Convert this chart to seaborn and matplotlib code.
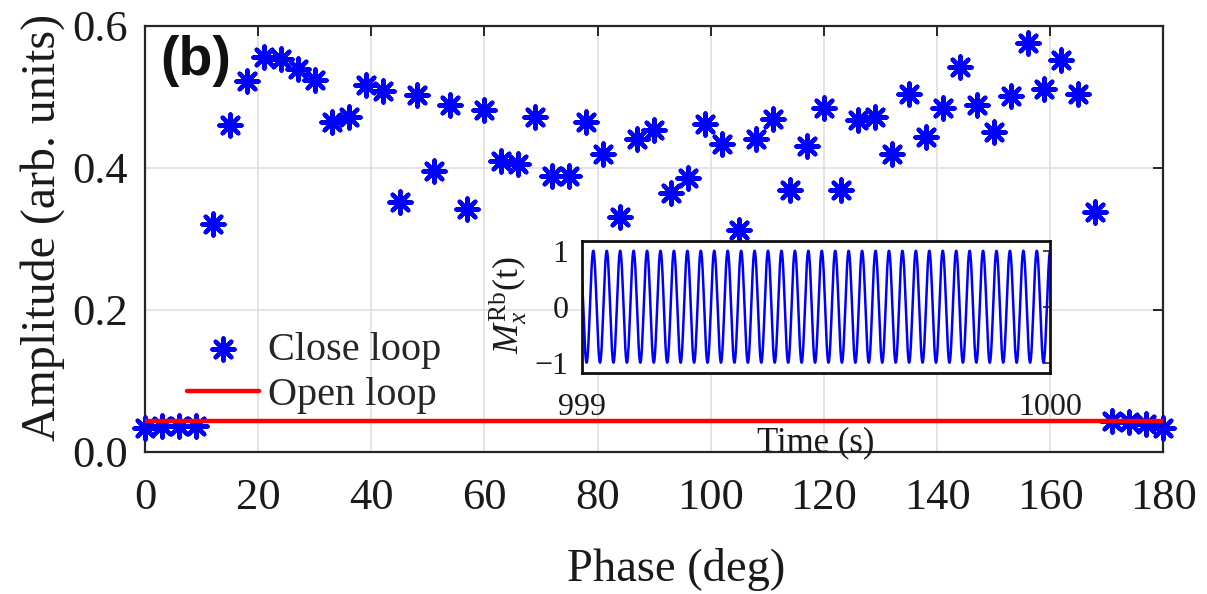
import numpy as np
import pandas as pd
import matplotlib
matplotlib.use("Agg")
import matplotlib.pyplot as plt
from matplotlib.ticker import FormatStrFormatter
import seaborn as sns

# ---------------- data ----------------
phase_deg = [0, 3, 6, 9, 12, 15, 18, 21, 24, 27, 30, 33, 36, 39, 42, 45, 48, 51, 54, 57,
             60, 63, 66, 69, 72, 75, 78, 81, 84, 87, 90, 93, 96, 99, 102, 105, 108, 111,
             114, 117, 120, 123, 126, 129, 132, 135, 138, 141, 144, 147, 150, 153, 156,
             159, 162, 165, 168, 171, 174, 177, 180]
close_loop = [0.034, 0.037, 0.037, 0.037, 0.321, 0.460, 0.522, 0.556, 0.553, 0.539,
              0.524, 0.464, 0.471, 0.516, 0.508, 0.352, 0.502, 0.396, 0.488, 0.342,
              0.481, 0.409, 0.406, 0.471, 0.389, 0.389, 0.464, 0.419, 0.331, 0.440,
              0.453, 0.365, 0.385, 0.461, 0.434, 0.313, 0.440, 0.468, 0.369, 0.430,
              0.484, 0.369, 0.467, 0.471, 0.419, 0.504, 0.443, 0.484, 0.542, 0.488,
              0.450, 0.501, 0.576, 0.511, 0.552, 0.504, 0.338, 0.044, 0.042, 0.040,
              0.034]
open_loop_phase = [0, 180]
open_loop_amp = [0.044, 0.044]

x_ticks = [0, 20, 40, 60, 80, 100, 120, 140, 160, 180]
y_ticks = [0.0, 0.2, 0.4, 0.6]

# inset: Rb magnetisation signal between 999 s and 1000 s
inset_t_start, inset_t_end = 999.0, 1000.0
inset_freq_hz = 34.8
inset_peak_time = 999.0235
inset_amp = 1.0
inset_time = np.linspace(inset_t_start, inset_t_end, 4000)
inset_signal = inset_amp * np.cos(2 * np.pi * inset_freq_hz * (inset_time - inset_peak_time))
inset_x_ticks = [999, 1000]
inset_y_ticks = [-1, 0, 1]

# ---------------- style ----------------
sns.set_theme(style="white")
plt.rcParams["font.family"] = ["Liberation Serif", "DejaVu Serif"]
plt.rcParams["mathtext.fontset"] = "custom"
plt.rcParams["mathtext.rm"] = "Liberation Serif"
plt.rcParams["mathtext.it"] = "Liberation Serif:italic"
plt.rcParams["axes.unicode_minus"] = True

BLUE = "#0000ff"
RED = "#ff0000"
SPINE = "#262626"
TEXT = "#1a1a1a"

fig = plt.figure(figsize=(12.07, 5.94), dpi=100)
ax = fig.add_axes([0.12013, 0.23906, 0.84366, 0.71767])

sns.scatterplot(x=phase_deg, y=close_loop, marker=(8, 2, 0), s=16 ** 2,
                color=BLUE, linewidth=3, ax=ax, zorder=3, label="Close loop",
                legend=False, clip_on=False)
sns.lineplot(x=open_loop_phase, y=open_loop_amp, color=RED, lw=3.2, ax=ax,
             zorder=4, label="Open loop", legend=False)

ax.set_xlim(0, 180)
ax.set_ylim(0, 0.6)
ax.set_xticks(x_ticks)
ax.set_yticks(y_ticks)
ax.yaxis.set_major_formatter(FormatStrFormatter("%.1f"))
ax.grid(True, color="#dcdcdc", lw=1.1)
ax.set_axisbelow(True)
ax.tick_params(direction="in", length=7, width=1.4, top=True, right=True,
               labelsize=32, colors=SPINE, labelcolor=TEXT)
ax.tick_params(axis="x", pad=19)
ax.tick_params(axis="y", pad=12)
for sp in ax.spines.values():
    sp.set_color(SPINE)
    sp.set_linewidth(1.6)
ax.set_xlabel("Phase (deg)", fontsize=33.5, color=TEXT)
ax.xaxis.set_label_coords(0.522, -0.226)
ax.set_ylabel("Amplitude (arb. units)", fontsize=34.5, color=TEXT)
ax.yaxis.set_label_coords(-0.0786, 0.526)

ax.text(0.015, 0.978, "(b)", transform=ax.transAxes, fontfamily="Liberation Sans",
        fontweight="bold", fontsize=40, va="top", ha="left", color="#111111")

handles, labels = ax.get_legend_handles_labels()
order = [labels.index("Close loop"), labels.index("Open loop")]
leg = ax.legend([handles[i] for i in order], [labels[i] for i in order],
                loc="upper left", bbox_to_anchor=(0.041, 0.283), frameon=False,
                fontsize=29, borderpad=0, borderaxespad=0, handlelength=1.8,
                handletextpad=0.22, labelspacing=0.2)

# ---------------- inset ----------------
axin = fig.add_axes([0.48244, 0.37155, 0.38749, 0.22323], zorder=5)
axin.set_facecolor("white")
sns.lineplot(x=inset_time, y=inset_signal, color=BLUE, lw=1.8, ax=axin,
             errorbar=None, estimator=None)
axin.set_xlim(inset_t_start, inset_t_end)
axin.set_ylim(-1.19, 1.18)
axin.set_xticks(inset_x_ticks)
axin.set_xticklabels([str(v) for v in inset_x_ticks])
axin.set_yticks(inset_y_ticks)
axin.grid(False)
axin.tick_params(direction="in", length=5, width=1.2, right=True, labelsize=23,
                 colors=SPINE, labelcolor=TEXT)
axin.tick_params(axis="x", length=0, pad=14)
axin.tick_params(axis="y", pad=10)
for sp in axin.spines.values():
    sp.set_color("#111111")
    sp.set_linewidth(2.0)
axin.set_xlabel("Time (s)", fontsize=25, color=TEXT, labelpad=3)
axin.set_ylabel(r"$M_x^{\rm Rb}$(t)", fontsize=26, color=TEXT)
axin.yaxis.set_label_coords(-0.113, 0.515)

fig.savefig("out.png", dpi=100)
